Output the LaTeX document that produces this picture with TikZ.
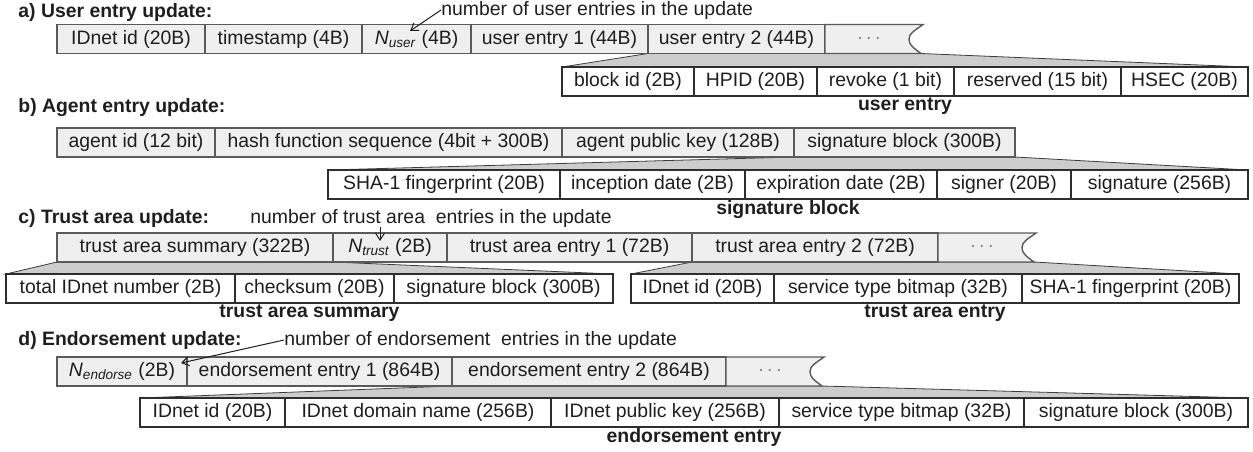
\documentclass[tikz,border=0pt]{standalone}
\usepackage{fontspec}
\setmainfont{Liberation Sans}
\usetikzlibrary{positioning,calc,arrows.meta}
\definecolor{cellfill}{HTML}{EFEFEF}
\definecolor{cellline}{HTML}{5A5A5A}
\definecolor{subline}{HTML}{2E2E2E}
\definecolor{fanfill}{HTML}{CDCDCD}
\definecolor{fanline}{HTML}{3C3C3C}
\definecolor{ink}{HTML}{1E1E1E}
\pgfdeclarelayer{back}
\pgfsetlayers{back,main}
\newcommand{\fieldfont}{\fontsize{9.7}{11}\selectfont}
\newcommand{\Nsub}[1]{\textit{N\textsubscript{#1}}}
% cola con "..." y borde ondulado
\newcommand{\dotstail}[2]{%
  \draw[tailcell] (#1.north east) -- ++(98,0)
    .. controls +(-8,6) and +(0,-6) .. ++(-14,14.5)
    .. controls +(0,6) and +(-8,-6) .. ++(12,14.5) coordinate (#2end)
    -- (#1.south east) -- cycle;
  \node[dotsmark] (#2dots) at ($(#1.east)+(44,0)$) {$\cdots$};
}
\tikzset{
  cell/.style={draw=cellline, fill=cellfill, line width=0.7pt, minimum height=14.5pt,
    inner sep=0pt, outer sep=0pt, font=\fieldfont, text=ink},
  subcell/.style={cell, draw=subline, fill=white},
  tailcell/.style={draw=cellline, fill=cellfill, line width=0.7pt},
  dotsmark/.style={font=\fieldfont, text=black!55, inner sep=0pt},
  fan/.style={draw=fanline, fill=fanfill, line width=0.4pt},
  title/.style={font=\fieldfont\bfseries, text=ink, inner sep=0pt, anchor=west},
  caption/.style={font=\fieldfont\bfseries, text=ink, inner sep=0pt},
  note/.style={font=\fieldfont, text=ink, inner sep=0pt, anchor=west},
  notearrow/.style={draw=ink, line width=0.5pt, -{Straight Barb[length=3.5pt,width=4.5pt]}}
}
\begin{document}
\begin{tikzpicture}[x=0.5pt, y=-0.5pt]
\useasboundingbox (0,0) rectangle (1253,451);

% Fila a
\node[title] (titA) at (18,12) {a) User entry update:};
\node[cell, minimum width=74pt, anchor=west] (a1) at (57,39) {IDnet id (20B)};
\node[cell, minimum width=78.5pt, right=0pt of a1] (a2) {timestamp (4B)};
\node[cell, minimum width=54.5pt, right=0pt of a2] (a3) {\Nsub{user} (4B)};
\node[cell, minimum width=88.5pt, right=0pt of a3] (a4) {user entry 1 (44B)};
\node[cell, minimum width=88.5pt, right=0pt of a4] (a5) {user entry 2 (44B)};
\dotstail{a5}{ta}
\node[note] (noteA) at (441,10) {number of user entries in the update};
\coordinate (nuser) at (410,31);
\draw[notearrow] (noteA.west) -- (nuser);

% Detalle a
\node[subcell, minimum width=66pt, anchor=west] (ua1) at (562,81.5) {block id (2B)};
\node[subcell, minimum width=61.5pt, right=0pt of ua1] (ua2) {HPID (20B)};
\node[subcell, minimum width=68.5pt, right=0pt of ua2] (ua3) {revoke (1 bit)};
\node[subcell, minimum width=83.5pt, right=0pt of ua3] (ua4) {reserved (15 bit)};
\node[subcell, minimum width=63.5pt, right=0pt of ua4] (ua5) {HSEC (20B)};
\node[caption, below=0.5pt] (capA) at ($(ua1.south west)!0.5!(ua5.south east)$) {user entry};
\begin{pgfonlayer}{back}
\draw[fan] (a5.south west) -- (taend) -- (ua5.north east) -- (ua1.north west) -- cycle;
\end{pgfonlayer}

% Fila b
\node[title] (titB) at (18,108) {b) Agent entry update:};
\node[cell, minimum width=79pt, anchor=west] (b1) at (57,142.5) {agent id (12 bit)};
\node[cell, minimum width=173.5pt, right=0pt of b1] (b2) {hash function sequence (4bit + 300B)};
\node[cell, minimum width=116pt, right=0pt of b2] (b3) {agent public key (128B)};
\node[cell, minimum width=110.5pt, right=0pt of b3] (b4) {signature block (300B)};

% Detalle b
\node[subcell, minimum width=116pt, anchor=west] (ub1) at (328,184.5) {SHA-1 fingerprint (20B)};
\node[subcell, minimum width=92.5pt, right=0pt of ub1] (ub2) {inception date (2B)};
\node[subcell, minimum width=96pt, right=0pt of ub2] (ub3) {expiration date (2B)};
\node[subcell, minimum width=67pt, right=0pt of ub3] (ub4) {signer (20B)};
\node[subcell, minimum width=88.5pt, right=0pt of ub4] (ub5) {signature (256B)};
\node[caption, below=0.5pt] (capB) at ($(ub1.south west)!0.5!(ub5.south east)$) {signature block};
\begin{pgfonlayer}{back}
\draw[fan] (b4.south west) -- (b4.south east) -- (ub5.north east) -- (ub1.north west) -- cycle;
\end{pgfonlayer}

% Fila c
\node[title] (titC) at (18,218) {c) Trust area update:};
\node[cell, minimum width=138pt, anchor=west] (c1) at (57,247.5) {trust area summary (322B)};
\node[cell, minimum width=57pt, right=0pt of c1] (c2) {\Nsub{trust} (2B)};
\node[cell, minimum width=122.5pt, right=0pt of c2] (c3) {trust area entry 1 (72B)};
\node[cell, minimum width=123pt, right=0pt of c3] (c4) {trust area entry 2 (72B)};
\dotstail{c4}{tc}
\node[note] (noteC) at (250,218) {number of trust area\ \ entries in the update};
\coordinate (ntrust) at (380,241);
\draw[notearrow] (ntrust |- noteC.south) -- (ntrust);

% Detalle c
\node[subcell, minimum width=114.5pt, anchor=west] (uc1) at (6,288.5) {total IDnet number (2B)};
\node[subcell, minimum width=79.5pt, right=0pt of uc1] (uc2) {checksum (20B)};
\node[subcell, minimum width=109.5pt, right=0pt of uc2] (uc3) {signature block (300B)};
\node[caption, below=0.5pt] (capC) at ($(uc1.south west)!0.5!(uc3.south east)$) {trust area summary};
\node[subcell, minimum width=71.5pt, anchor=west] (ue1) at (631,288.5) {IDnet id (20B)};
\node[subcell, minimum width=124pt, right=0pt of ue1] (ue2) {service type bitmap (32B)};
\node[subcell, minimum width=108.5pt, right=0pt of ue2] (ue3) {SHA-1 fingerprint (20B)};
\node[caption, below=0.5pt] (capE) at ($(ue1.south west)!0.5!(ue3.south east)$) {trust area entry};
\begin{pgfonlayer}{back}
\draw[fan] (c1.south west) -- (c1.south east) -- (uc3.north east) -- (uc1.north west) -- cycle;
\draw[fan] (c4.south west) -- (tcend) -- (ue3.north east) -- (ue1.north west) -- cycle;
\end{pgfonlayer}

% Fila d
\node[title] (titD) at (18,340) {d) Endorsement update:};
\node[cell, minimum width=65pt, anchor=west] (d1) at (57,371.5) {\Nsub{endorse} (2B)};
\node[cell, minimum width=132.5pt, right=0pt of d1] (d2) {endorsement entry 1 (864B)};
\node[cell, minimum width=137pt, right=0pt of d2] (d3) {endorsement entry 2 (864B)};
\dotstail{d3}{td}
\node[note] (noteD) at (284,340) {number of endorsement\ \ entries in the update};
\coordinate (nendorse) at (181,363);
\draw[notearrow] (noteD.west) -- (nendorse);

% Detalle d
\node[subcell, minimum width=72.5pt, anchor=west] (ud1) at (140,412.5) {IDnet id (20B)};
\node[subcell, minimum width=133pt, right=0pt of ud1] (ud2) {IDnet domain name (256B)};
\node[subcell, minimum width=114pt, right=0pt of ud2] (ud3) {IDnet public key (256B)};
\node[subcell, minimum width=122.5pt, right=0pt of ud3] (ud4) {service type bitmap (32B)};
\node[subcell, minimum width=112pt, right=0pt of ud4] (ud5) {signature block (300B)};
\node[caption, below=0.5pt] (capD) at ($(ud1.south west)!0.5!(ud5.south east)$) {endorsement entry};
\begin{pgfonlayer}{back}
\draw[fan] (d3.south west) -- (tdend) -- (ud5.north east) -- (ud1.north west) -- cycle;
\end{pgfonlayer}
\end{tikzpicture}
\end{document}
